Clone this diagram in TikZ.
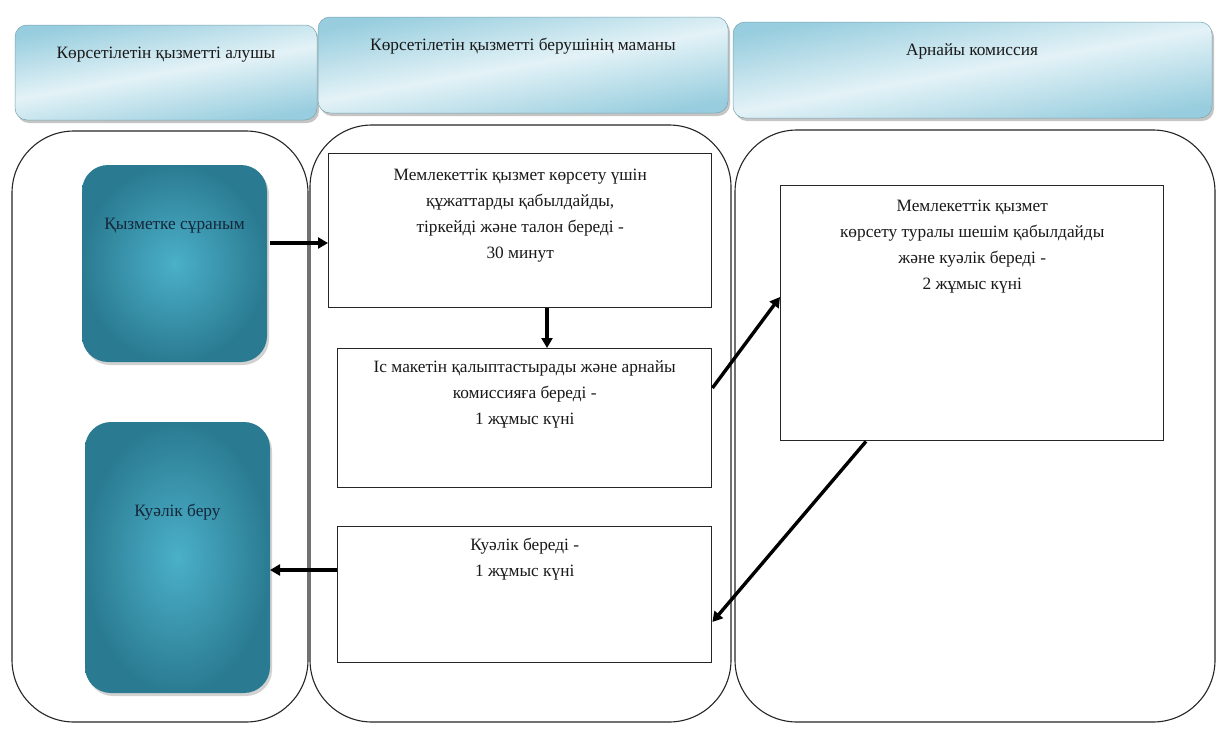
\documentclass[tikz,border=0pt]{standalone}
\usepackage{fontspec}
\setmainfont{Liberation Serif}
\usetikzlibrary{calc,arrows.meta,shadows}
\definecolor{hdrA}{HTML}{97CDDE}
\definecolor{hdrB}{HTML}{E3F2F7}
\definecolor{tealIn}{HTML}{4BB0C9}
\definecolor{tealOut}{HTML}{2A7B91}
\definecolor{tealTxt}{HTML}{14263A}
\begin{document}
\begin{tikzpicture}[x=1pt,y=-1pt,
  hdr/.style={rounded corners=12pt, draw=hdrA!80!black, line width=0.5pt,
    top color=hdrA, bottom color=hdrA, middle color=hdrB, shading angle=10,
    drop shadow={shadow xshift=2pt, shadow yshift=-3pt, fill=black!45}},
  lane/.style={draw=black!85, line width=1.1pt, rounded corners=62pt},
  tealbox/.style={rounded corners=26pt, inner color=tealIn, outer color=tealOut,
    drop shadow={shadow xshift=2pt, shadow yshift=-3pt, fill=black!35}},
  stepbox/.style={draw=black!85, line width=1.4pt, fill=white},
  txt/.style={font=\fontsize{17.3}{26}\selectfont, align=center, text=black!90, inner sep=0pt},
  ttxt/.style={txt, text=tealTxt},
  flow/.style={line width=3.4pt, -{Triangle[length=10pt,width=11pt]}}
]
\useasboundingbox (0,0) rectangle (1221,742);
\fill[white] (0,0) rectangle (1221,742);

% lane headers
\path[hdr] (15,25) rectangle (317,120);
\path[hdr] (318,17) rectangle (728,113);
\path[hdr] (733,22) rectangle (1212,118);
\node[txt] (h1) at (166,55) {Көрсетілетін қызметті алушы};
\node[txt] (h2) at (523,46) {Көрсетілетін қызметті берушінің маманы};
\node[txt] (h3) at (972,51) {Арнайы комиссия};

% swim lanes
\draw[lane] (12,131) rectangle (308,722);
\draw[lane] (310,125) rectangle (731,722);
\draw[lane] (735,130) rectangle (1215,722);

% service receiver
\path[tealbox] (82,165) rectangle (267,362);
\path[tealbox] (85,422) rectangle (270,693);
\coordinate (t1nw) at (82,165);
\coordinate (t1se) at (267,362);
\coordinate (t2nw) at (85,422);
\coordinate (t2se) at (270,693);
\node[ttxt] (t1) at (174.5,226) {Қызметке сұраным};
\node[ttxt] (t2) at (177.5,512) {Куәлік беру};

% service provider steps
\node[stepbox, anchor=north west, minimum width=383pt, minimum height=154pt] (w1) at (328,153) {};
\node[stepbox, anchor=north west, minimum width=374pt, minimum height=139pt] (w2) at (337,348) {};
\node[stepbox, anchor=north west, minimum width=374pt, minimum height=136pt] (w3) at (337,526) {};
\node[txt, anchor=north] (w1t) at ($(w1.north)+(0,16)$)
  {Мемлекеттік қызмет көрсету үшін\\құжаттарды қабылдайды,\\тіркейді және талон береді -\\30 минут};
\node[txt, anchor=north] (w2t) at ($(w2.north)+(0,12)$)
  {Іс макетін қалыптастырады және арнайы\\комиссияға береді -\\1 жұмыс күні};
\node[txt, anchor=north] (w3t) at ($(w3.north)+(0,12)$)
  {Куәлік береді -\\1 жұмыс күні};

% special commission
\node[stepbox, anchor=north west, minimum width=383pt, minimum height=255pt] (w4) at (780,185) {};
\node[txt, anchor=north] (w4t) at ($(w4.north)+(0,15)$)
  {Мемлекеттік қызмет\\көрсету туралы шешім қабылдайды\\және куәлік береді -\\2 жұмыс күні};

% flow
\draw[flow] ($(t1se)+(3,-119)$) -- ($(w1.north west)+(0,90)$);
\draw[flow] (w1.south -| 547,0) -- (w2.north -| 547,0);
\draw[flow] ($(w2.north east)+(0,40)$) -- ($(w4.north west)+(0,112)$);
\draw[flow] ($(w4.south west)+(86,0)$) -- ($(w3.north east)+(0,96)$);
\draw[flow] ($(w3.north west)+(0,44)$) -- ($(t2se)+(0,-123)$);
\end{tikzpicture}
\end{document}
